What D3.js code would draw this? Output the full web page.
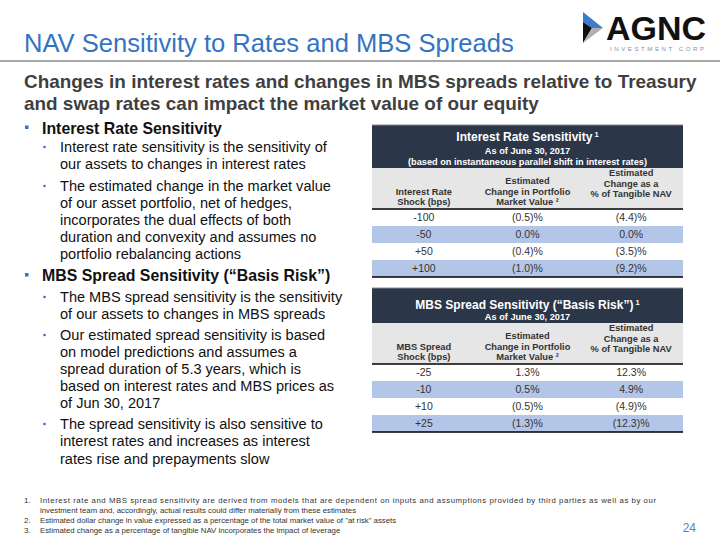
<!DOCTYPE html>
<html><head><meta charset="utf-8">
<script src="https://cdn.jsdelivr.net/npm/d3@7"></script>
<style>body{margin:0;background:#fff}</style>
</head><body>
<svg id="c" width="720" height="540"></svg>
<script>
// ---- data ----
const rateShocks = [-100, -50, 50, 100];
const rateMV = [-0.5, 0.0, -0.4, -1.0];
const rateNAV = [-4.4, 0.0, -3.5, -9.2];
const spreadShocks = [-25, -10, 10, 25];
const spreadMV = [1.3, 0.5, -0.5, -1.3];
const spreadNAV = [12.3, 4.9, -4.9, -12.3];
const rateTitle = ["Interest Rate Sensitivity", "As of June 30, 2017", "(based on instantaneous parallel shift in interest rates)"];
const spreadTitle = ["MBS Spread Sensitivity (\u201cBasis Risk\u201d)", "As of June 30, 2017"];
const rateHeaders = [["Interest Rate", "Shock (bps)"], ["Estimated", "Change in Portfolio", "Market Value \u00b2"], ["Estimated", "Change as a", "% of Tangible NAV"]];
const spreadHeaders = [["MBS Spread", "Shock (bps)"], ["Estimated", "Change in Portfolio", "Market Value \u00b2"], ["Estimated", "Change as a", "% of Tangible NAV"]];
const bullets = [
  {main: "Interest Rate Sensitivity", subs: [
    ["Interest rate sensitivity is the sensitivity of", "our assets to changes in interest rates"],
    ["The estimated change in the market value", "of our asset portfolio, net of hedges,", "incorporates the dual effects of both", "duration and convexity and assumes no", "portfolio rebalancing actions"]]},
  {main: "MBS Spread Sensitivity (\u201cBasis Risk\u201d)", subs: [
    ["The MBS spread sensitivity is the sensitivity", "of our assets to changes in MBS spreads"],
    ["Our estimated spread sensitivity is based", "on model predictions and assumes a", "spread duration of 5.3 years, which is", "based on interest rates and MBS prices as", "of Jun 30, 2017"],
    ["The spread sensitivity is also sensitive to", "interest rates and increases as interest", "rates rise and prepayments slow"]]}
];
const footnotes = [
  ["1.", "Interest rate and MBS spread sensitivity are derived from models that are dependent on inputs and assumptions provided by third parties as well as by our"],
  ["", "investment team and, accordingly, actual results could differ materially from these estimates"],
  ["2.", "Estimated dollar change in value expressed as a percentage of the total market value of \"at risk\" assets"],
  ["3.", "Estimated change as a percentage of tangible NAV incorporates the impact of leverage"]
];

// ---- drawing ----
const FONT = "'Liberation Sans', Arial, sans-serif";
const BLUE = "#3473c2";
const svg = d3.select("#c").style("font-family", FONT);

// scale a text's font size so its width matches a target (capped)
function fit(sel, target, maxSize) {
  const fs = +sel.attr("font-size");
  const w = sel.node().getComputedTextLength();
  let s = w > 0 ? fs * target / w : fs;
  if (maxSize) s = Math.min(s, maxSize);
  sel.attr("font-size", s);
  return s;
}

// title
const title = svg.append("text").attr("x", 24).attr("y", 52).attr("font-size", 24).attr("fill", BLUE)
  .text("NAV Sensitivity to Rates and MBS Spreads");
fit(title, 490, 26);
svg.append("rect").attr("x", 0).attr("y", 60).attr("width", 720).attr("height", 2).attr("fill", "#a8a8a8");

// logo
svg.append("polygon").attr("points", "583,12 603,28 592,28 583,22").attr("fill", "#3d7cc9");
svg.append("polygon").attr("points", "583,22 592,28 583,43").attr("fill", "#111");
svg.append("polygon").attr("points", "592,28 603,28 583,43").attr("fill", "#b0b0b0");
svg.append("text").attr("x", 606).attr("y", 40)
  .attr("font-weight", "bold").attr("font-size", 34).attr("fill", "#111")
  .attr("textLength", 100).attr("lengthAdjust", "spacingAndGlyphs").text("AGNC");
svg.append("text").attr("x", 610).attr("y", 51)
  .attr("font-size", 6).attr("fill", "#7d8fae").attr("textLength", 94).attr("lengthAdjust", "spacing").text("INVESTMENT CORP");

// subtitle
const sub1 = svg.append("text").attr("x", 24).attr("y", 88).attr("font-size", 17).attr("font-weight", "bold").attr("fill", "#3f3f3f")
  .text("Changes in interest rates and changes in MBS spreads relative to Treasury");
const subSize = fit(sub1, 673, 19);
svg.append("text").attr("x", 24).attr("y", 110).attr("font-size", subSize).attr("font-weight", "bold").attr("fill", "#3f3f3f")
  .text("and swap rates can impact the market value of our equity");

// bullets
const mainY = [133.5, 281];
const subYs = [
  [[152, 169], [191, 208, 225, 242, 259]],
  [[302, 318.5], [340, 357, 374, 391, 408], [429, 446, 464]]
];
// measure body size from first line
const probe = svg.append("text").attr("font-size", 14).text(bullets[0].subs[0][0]);
const bodySize = fit(probe, 267, 15);
probe.remove();
const probe2 = svg.append("text").attr("font-size", 15).attr("font-weight", "bold").text(bullets[0].main);
const headSize = fit(probe2, 180, 16.5);
probe2.remove();

bullets.forEach((b, i) => {
  svg.append("rect").attr("x", 25).attr("y", mainY[i] - 8).attr("width", 3.5).attr("height", 3.5).attr("fill", BLUE);
  svg.append("text").attr("x", 42).attr("y", mainY[i]).attr("font-size", headSize).attr("font-weight", "bold")
    .attr("fill", "#111").text(b.main);
  b.subs.forEach((lines, j) => {
    const ys = subYs[i][j];
    svg.append("circle").attr("cx", 44.5).attr("cy", ys[0] - 5).attr("r", 1.3).attr("fill", BLUE);
    lines.forEach((ln, k) => {
      svg.append("text").attr("x", 60).attr("y", ys[k]).attr("font-size", bodySize).attr("fill", "#111").text(ln);
    });
  });
});

// tables
const pct = v => v < 0 ? "(" + d3.format(".1f")(-v) + ")%" : d3.format(".1f")(v) + "%";
const shock = v => v > 0 ? "+" + v : String(v);

function drawTable(opt) {
  const g = svg.append("g");
  const x = d3.scaleBand().domain([0, 1, 2]).range([372, 683]);
  const y = d3.scaleBand().domain(d3.range(opt.shocks.length)).range([opt.rowTop, opt.rowTop + 17 * opt.shocks.length]);
  // dark title band
  g.append("rect").attr("x", 372).attr("y", opt.top).attr("width", 311).attr("height", opt.grayTop - opt.top).attr("fill", "#2b3649");
  g.append("line").attr("x1", 372).attr("x2", 683).attr("y1", opt.top).attr("y2", opt.top).attr("stroke", "#8a8a8a").attr("stroke-width", 1);
  opt.title.forEach((t, i) => {
    const tx = g.append("text").attr("x", 527.5).attr("y", opt.titleY[i]).attr("text-anchor", "middle")
      .attr("fill", "#fff").attr("font-weight", "bold").attr("font-size", i === 0 ? 12 : 9.2).text(t);
    if (i === 0) tx.append("tspan").attr("font-size", 7.5).attr("dy", -4).text(" 1");
  });
  // gray header band
  g.append("rect").attr("x", 372).attr("y", opt.grayTop).attr("width", 311).attr("height", opt.rowTop - opt.grayTop).attr("fill", "#e6e6e6");
  opt.headers.forEach((lines, c) => {
    lines.forEach((ln, k) => {
      g.append("text").attr("x", x(c) + x.bandwidth() / 2).attr("y", opt.headY[c][k]).attr("text-anchor", "middle")
        .attr("font-size", 9.3).attr("font-weight", "bold").attr("fill", "#333").text(ln);
    });
  });
  // rows
  opt.shocks.forEach((s, r) => {
    if (r % 2 === 1) g.append("rect").attr("x", 372).attr("y", y(r)).attr("width", 311).attr("height", y.bandwidth()).attr("fill", "#b4c6e8");
    [shock(s), pct(opt.mv[r]), pct(opt.nav[r])].forEach((t, c) => {
      g.append("text").attr("x", x(c) + x.bandwidth() / 2).attr("y", y(r) + y.bandwidth() / 2 + 3.8)
        .attr("text-anchor", "middle").attr("font-size", 10.5).attr("fill", "#333").text(t);
    });
  });
  g.append("line").attr("x1", 372).attr("x2", 683).attr("y1", opt.rowTop).attr("y2", opt.rowTop).attr("stroke", "#000").attr("stroke-width", 1.5);
  const bot = opt.rowTop + 17 * opt.shocks.length;
  g.append("line").attr("x1", 372).attr("x2", 683).attr("y1", bot).attr("y2", bot).attr("stroke", "#000").attr("stroke-width", 1.5);
}

drawTable({top: 125, grayTop: 168, rowTop: 209, title: rateTitle, titleY: [140.5, 154, 164.5],
  headers: rateHeaders, headY: [[194.5, 205], [184, 194.5, 205], [176, 186.5, 197]],
  shocks: rateShocks, mv: rateMV, nav: rateNAV});
drawTable({top: 288, grayTop: 323, rowTop: 364, title: spreadTitle, titleY: [308.5, 320],
  headers: spreadHeaders, headY: [[349.5, 360], [339, 349.5, 360], [331, 341.5, 352]],
  shocks: spreadShocks, mv: spreadMV, nav: spreadNAV});

// footnotes
const fnY = [503, 512.5, 523, 533];
footnotes.forEach((f, i) => {
  svg.append("text").attr("x", 24).attr("y", fnY[i]).attr("font-size", 8).attr("fill", "#333").text(f[0]);
  const t = svg.append("text").attr("x", 40).attr("y", fnY[i]).attr("font-size", 7.8).attr("fill", "#333").text(f[1]);
  if (i === 0) t.attr("textLength", 616).attr("lengthAdjust", "spacing");
});
svg.append("text").attr("x", 696).attr("y", 532).attr("text-anchor", "end").attr("font-size", 12)
  .attr("fill", "#5b7fb8").text("24");
</script>
</body></html>
